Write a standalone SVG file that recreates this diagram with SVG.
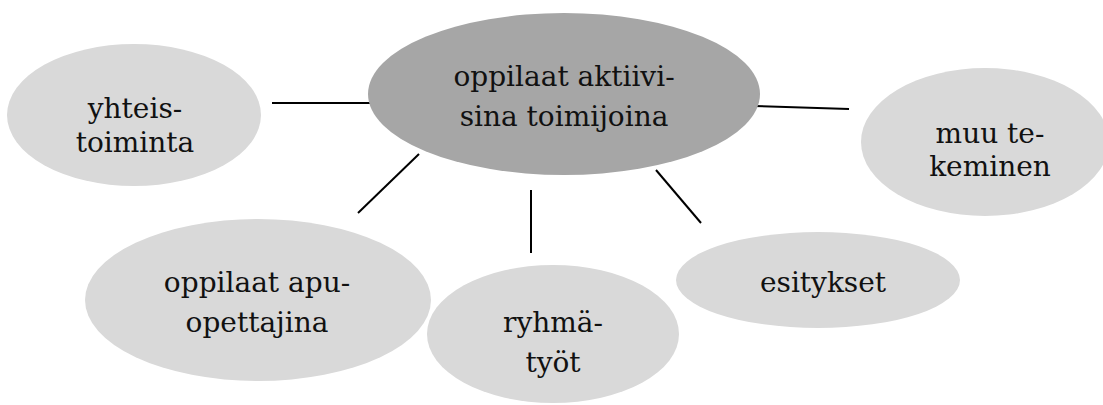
<svg xmlns="http://www.w3.org/2000/svg" width="1103" height="405" viewBox="0 0 1103 405">
  <style>
    .hub { fill: #a6a6a6; }
    .leaf { fill: #d9d9d9; }
    .lbl { font-family: 'DejaVu Serif', serif; font-size: 28px; fill: #111; text-anchor: middle; }
    .link { stroke: #000; stroke-width: 2; fill: none; }
  </style>
  <rect width="1103" height="405" fill="#fff"/>

  <g id="connectors">
    <line class="link" x1="272" y1="103" x2="372" y2="103"/>
    <line class="link" x1="753" y1="106" x2="849" y2="109"/>
    <line class="link" x1="358" y1="213" x2="419" y2="154"/>
    <line class="link" x1="531" y1="190" x2="531" y2="253"/>
    <line class="link" x1="656" y1="170" x2="701" y2="223"/>
  </g>

  <g id="node-center">
    <ellipse class="hub" cx="564" cy="94" rx="196" ry="81"/>
    <text class="lbl" x="564" y="86">oppilaat aktiivi-</text>
    <text class="lbl" x="564" y="126">sina toimijoina</text>
  </g>

  <g id="node-yhteistoiminta">
    <ellipse class="leaf" cx="134" cy="115" rx="127" ry="71"/>
    <text class="lbl" x="135" y="118">yhteis-</text>
    <text class="lbl" x="135" y="152">toiminta</text>
  </g>

  <g id="node-muu">
    <ellipse class="leaf" cx="985" cy="142" rx="124" ry="74"/>
    <text class="lbl" x="990" y="143">muu te-</text>
    <text class="lbl" x="990" y="176">keminen</text>
  </g>

  <g id="node-apuopettajina">
    <ellipse class="leaf" cx="258" cy="300" rx="173" ry="81"/>
    <text class="lbl" x="257" y="292">oppilaat apu-</text>
    <text class="lbl" x="257" y="332">opettajina</text>
  </g>

  <g id="node-ryhmatyot">
    <ellipse class="leaf" cx="553" cy="334" rx="126" ry="69"/>
    <text class="lbl" x="553" y="332">ryhmä-</text>
    <text class="lbl" x="553" y="372">työt</text>
  </g>

  <g id="node-esitykset">
    <ellipse class="leaf" cx="818" cy="280" rx="142" ry="48"/>
    <text class="lbl" x="823" y="292">esitykset</text>
  </g>
</svg>
